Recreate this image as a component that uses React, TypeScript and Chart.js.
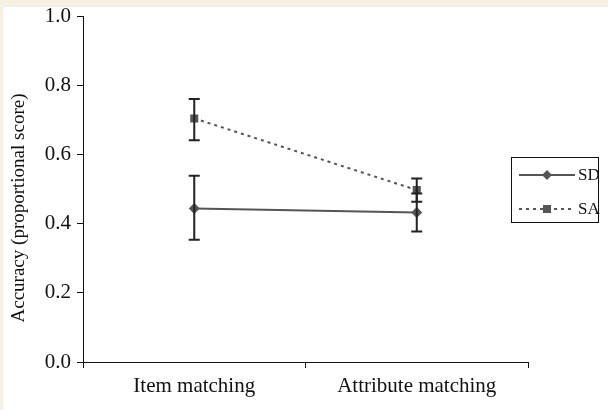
import React, { useEffect, useRef } from "react";
import { Chart, registerables } from "chart.js";

Chart.register(...registerables);

const categories = ["Item matching", "Attribute matching"];
const sdValues = [0.444, 0.432];
const sdErrLow = [0.353, 0.377];
const sdErrHigh = [0.538, 0.487];
const saValues = [0.704, 0.497];
const saErrLow = [0.641, 0.463];
const saErrHigh = [0.760, 0.530];
const yTicks = [0, 0.2, 0.4, 0.6, 0.8, 1.0];
const yTitle = "Accuracy (proportional score)";

const SERIF = "'Liberation Serif', 'Times New Roman', serif";
const GRAY = "#555555";

const errorBarPlugin = {
  id: "errorBars",
  afterDatasetsDraw(chart: any) {
    const ctx = chart.ctx;
    const x = chart.scales.x;
    const y = chart.scales.y;
    const sets = [
      { lo: sdErrLow, hi: sdErrHigh },
      { lo: saErrLow, hi: saErrHigh },
    ];
    ctx.save();
    ctx.strokeStyle = "#222222";
    ctx.lineWidth = 2;
    sets.forEach((s) => {
      categories.forEach((_, i) => {
        const px = x.getPixelForValue(i);
        const yl = y.getPixelForValue(s.lo[i]);
        const yh = y.getPixelForValue(s.hi[i]);
        ctx.beginPath();
        ctx.moveTo(px, yl);
        ctx.lineTo(px, yh);
        ctx.moveTo(px - 5.5, yl);
        ctx.lineTo(px + 5.5, yl);
        ctx.moveTo(px - 5.5, yh);
        ctx.lineTo(px + 5.5, yh);
        ctx.stroke();
      });
    });
    ctx.restore();
  },
};

const bgPlugin = {
  id: "bg",
  beforeDraw(chart: any) {
    const ctx = chart.ctx;
    ctx.save();
    ctx.fillStyle = "#f5f0e1";
    ctx.fillRect(0, 0, chart.width, chart.height);
    ctx.fillStyle = "#ffffff";
    ctx.fillRect(3, 7, chart.width - 3, chart.height - 7);
    ctx.restore();
  },
};

const titleAndLegendPlugin = {
  id: "customLegend",
  afterDraw(chart: any) {
    const ctx = chart.ctx;
    ctx.save();
    // y-axis title
    ctx.save();
    ctx.translate(19, 208);
    ctx.rotate(-Math.PI / 2);
    ctx.fillStyle = "#111111";
    ctx.font = `19px ${SERIF}`;
    ctx.textAlign = "center";
    ctx.textBaseline = "middle";
    ctx.fillText(yTitle, 0, 0);
    ctx.restore();
    // legend box
    ctx.strokeStyle = "#111111";
    ctx.lineWidth = 1;
    ctx.strokeRect(511.5, 157.5, 87, 65);
    // SD
    ctx.strokeStyle = GRAY;
    ctx.lineWidth = 2;
    ctx.setLineDash([]);
    ctx.beginPath();
    ctx.moveTo(519, 175);
    ctx.lineTo(575, 175);
    ctx.stroke();
    ctx.fillStyle = GRAY;
    ctx.beginPath();
    ctx.moveTo(547, 170);
    ctx.lineTo(552, 175);
    ctx.lineTo(547, 180);
    ctx.lineTo(542, 175);
    ctx.closePath();
    ctx.fill();
    // SA
    ctx.lineWidth = 2;
    ctx.setLineDash([3, 4]);
    ctx.beginPath();
    ctx.moveTo(519, 209);
    ctx.lineTo(575, 209);
    ctx.stroke();
    ctx.setLineDash([]);
    ctx.fillRect(543, 205, 8, 8);
    ctx.fillStyle = "#111111";
    ctx.font = `17px ${SERIF}`;
    ctx.textBaseline = "middle";
    ctx.fillText(chart.data.datasets[0].label, 578, 176);
    ctx.fillText(chart.data.datasets[1].label, 578, 210);
    ctx.restore();
  },
};

export default function App() {
  const ref = useRef<HTMLCanvasElement>(null);
  useEffect(() => {
    const chart = new Chart(ref.current!, {
      type: "line",
      data: {
        labels: categories,
        datasets: [
          {
            label: "SD",
            data: sdValues,
            borderColor: GRAY,
            backgroundColor: GRAY,
            borderWidth: 2,
            pointStyle: "rectRot",
            pointRadius: 5.5,
            pointBorderWidth: 0,
          },
          {
            label: "SA",
            data: saValues,
            borderColor: GRAY,
            backgroundColor: GRAY,
            borderWidth: 2,
            borderDash: [3, 4],
            pointStyle: "rect",
            pointRadius: 5.7,
            pointBorderWidth: 0,
          },
        ],
      },
      options: {
        responsive: false,
        animation: false,
        layout: { padding: { left: 0, right: 80, top: 16, bottom: 0 } },
        plugins: { legend: { display: false }, tooltip: { enabled: false } },
        scales: {
          x: {
            type: "category",
            offset: true,
            grid: {
              offset: true,
              drawOnChartArea: false,
              drawTicks: true,
              tickLength: 6,
              tickColor: "#111111",
            },
            border: { color: "#111111", width: 1 },
            ticks: {
              color: "#111111",
              font: { family: SERIF, size: 21 },
              padding: 6,
              maxRotation: 0,
            },
            afterFit(s: any) {
              s.height = 48;
            },
          },
          y: {
            min: 0,
            max: 1,
            afterBuildTicks(s: any) {
              s.ticks = yTicks.map((v) => ({ value: v }));
            },
            grid: {
              drawOnChartArea: false,
              drawTicks: true,
              tickLength: 6,
              tickColor: "#111111",
            },
            border: { color: "#111111", width: 1 },
            ticks: {
              color: "#111111",
              font: { family: SERIF, size: 21, lineHeight: 1 },
              padding: 6,
              callback: (v: any) => Number(v).toFixed(1),
            },
            afterFit(s: any) {
              s.width = 83;
              s.paddingTop = 0;
              s.paddingBottom = 0;
            },
          },
        },
      },
      plugins: [bgPlugin, errorBarPlugin, titleAndLegendPlugin],
    });
    return () => chart.destroy();
  }, []);
  return (
    <div style={{ position: "fixed", left: 0, top: 0, width: 608, height: 410 }}>
      <canvas ref={ref} width={608} height={410} style={{ display: "block" }} />
    </div>
  );
}
